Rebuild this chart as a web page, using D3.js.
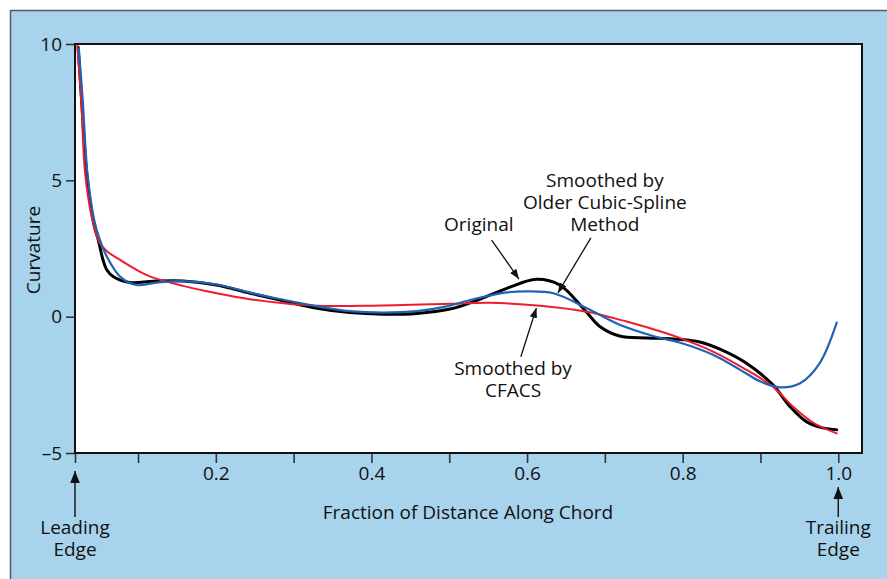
<!DOCTYPE html>
<html>
<head>
<meta charset="utf-8">
<script src="https://cdn.jsdelivr.net/npm/d3@7"></script>
<style>
  html, body { margin: 0; padding: 0; background: #ffffff; }
  svg { display: block; font-family: "Open Sans", "Noto Sans", sans-serif; }
</style>
</head>
<body>
<svg id="chart" width="887" height="579"></svg>
<script>
// ---------------- data ----------------
const originalPts = [
  [0.023, 9.88], [0.0275, 7.94], [0.034, 5.26], [0.043, 3.42], [0.049, 2.81],
  [0.055, 2.08], [0.060, 1.71], [0.068, 1.47], [0.0896, 1.25], [0.12, 1.30],
  [0.158, 1.31], [0.201, 1.16], [0.244, 0.86], [0.287, 0.58], [0.33, 0.31],
  [0.372, 0.15], [0.415, 0.09], [0.458, 0.12], [0.501, 0.28], [0.531, 0.55],
  [0.574, 1.04], [0.612, 1.37], [0.642, 1.16], [0.672, 0.31], [0.694, -0.37],
  [0.719, -0.71], [0.754, -0.78], [0.788, -0.82], [0.822, -0.93], [0.85, -1.22],
  [0.882, -1.71], [0.916, -2.50], [0.938, -3.30], [0.959, -3.85], [0.98, -4.08],
  [0.998, -4.15]
];
const olderSplinePts = [
  [0.024, 9.8], [0.029, 7.9], [0.035, 5.26], [0.044, 3.5], [0.05, 2.9],
  [0.06, 2.2], [0.077, 1.47], [0.098, 1.16], [0.124, 1.25], [0.158, 1.30],
  [0.201, 1.18], [0.244, 0.88], [0.287, 0.62], [0.33, 0.38], [0.372, 0.20],
  [0.415, 0.15], [0.458, 0.20], [0.495, 0.37], [0.531, 0.64], [0.574, 0.89],
  [0.60, 0.93], [0.634, 0.86], [0.677, 0.31], [0.719, -0.30], [0.762, -0.71],
  [0.796, -0.95], [0.839, -1.40], [0.874, -1.95], [0.90, -2.38], [0.925, -2.59],
  [0.951, -2.44], [0.976, -1.71], [0.998, -0.22]
];
const cfacsPts = [
  [0.022, 9.93], [0.027, 7.9], [0.032, 5.26], [0.041, 3.6], [0.051, 2.69],
  [0.06, 2.4], [0.077, 2.08], [0.096, 1.75], [0.116, 1.47], [0.158, 1.13],
  [0.201, 0.86], [0.244, 0.64], [0.287, 0.49], [0.33, 0.40], [0.40, 0.40],
  [0.501, 0.47], [0.552, 0.51], [0.617, 0.40], [0.677, 0.18], [0.728, -0.18],
  [0.779, -0.61], [0.796, -0.78], [0.839, -1.28], [0.882, -1.95], [0.916, -2.57],
  [0.942, -3.30], [0.968, -3.89], [0.998, -4.28]
];
const xDomain = [0.019, 1.0305];
const yDomain = [-5, 10];
const xTickValues = [0.019, 0.1, 0.2, 0.3, 0.4, 0.5, 0.6, 0.7, 0.8, 0.9, 1.0];
const xTickLabels = {0.2: "0.2", 0.4: "0.4", 0.6: "0.6", 0.8: "0.8", 1.0: "1.0"};
const yTickValues = [-5, 0, 5, 10];
const yTickLabels = {"-5": "\u20135", "0": "0", "5": "5", "10": "10"};

// annotations: label lines, first-line anchor (data coords), arrow tail -> tip (data coords)
const annotations = [
  { lines: ["Original"], at: [0.538, 3.14], tail: [0.5545, 2.81], tip: [0.5896, 1.38] },
  { lines: ["Smoothed by", "Older Cubic-Spline", "Method"], at: [0.700, 4.75], tail: [0.682, 2.89], tip: [0.6397, 0.87] },
  { lines: ["Smoothed by", "CFACS"], at: [0.582, -2.14], tail: [0.592, -1.47], tip: [0.612, 0.32] }
];

// ---------------- layout ----------------
const svg = d3.select("#chart");
const W = 887, H = 579;
const plot = { left: 75, right: 862, top: 44, bottom: 453 };
const FS = 19;

// panel background
svg.append("rect").attr("x", 10).attr("y", 10).attr("width", W - 10).attr("height", H - 10)
  .attr("fill", "#a8d3ec");
svg.append("line").attr("x1", 10.5).attr("x2", 10.5).attr("y1", 10).attr("y2", H).attr("stroke", "#5a5a5a").attr("stroke-width", 1.5);
svg.append("line").attr("x1", 10).attr("x2", W).attr("y1", 10.5).attr("y2", 10.5).attr("stroke", "#5a5a5a").attr("stroke-width", 1.5);

const x = d3.scaleLinear().domain(xDomain).range([plot.left, plot.right]);
const y = d3.scaleLinear().domain(yDomain).range([plot.bottom, plot.top]);

// plot area
svg.append("rect").attr("x", plot.left).attr("y", plot.top)
  .attr("width", plot.right - plot.left).attr("height", plot.bottom - plot.top)
  .attr("fill", "#ffffff");

// defs: arrow marker
const defs = svg.append("defs");
defs.append("marker").attr("id", "arr").attr("viewBox", "0 0 10 10")
  .attr("refX", 10).attr("refY", 5).attr("markerWidth", 10).attr("markerHeight", 10)
  .attr("markerUnits", "userSpaceOnUse").attr("orient", "auto")
  .append("path").attr("d", "M0,1.2 L10,5 L0,8.8 Z").attr("fill", "#111");
defs.append("marker").attr("id", "arrBig").attr("viewBox", "0 0 10 10")
  .attr("refX", 10).attr("refY", 5).attr("markerWidth", 12).attr("markerHeight", 12)
  .attr("markerUnits", "userSpaceOnUse").attr("orient", "auto")
  .append("path").attr("d", "M0,1 L10,5 L0,9 Z").attr("fill", "#111");

defs.append("clipPath").attr("id", "clip").append("rect")
  .attr("x", plot.left).attr("y", plot.top)
  .attr("width", plot.right - plot.left).attr("height", plot.bottom - plot.top);

// axes
const xAxis = d3.axisBottom(x).tickValues(xTickValues).tickSize(10).tickPadding(4)
  .tickFormat(d => xTickLabels[d] || "");
const gx = svg.append("g").attr("transform", `translate(0,${plot.bottom})`).call(xAxis);
gx.select(".domain").remove();
gx.selectAll(".tick line").attr("stroke", "#333").attr("stroke-width", 1.6);
gx.selectAll(".tick text").attr("fill", "#111").attr("font-size", FS)
  .attr("font-family", "'Open Sans', sans-serif");

const yAxis = d3.axisLeft(y).tickValues(yTickValues).tickSize(9).tickPadding(4)
  .tickFormat(d => yTickLabels[String(d)]);
const gy = svg.append("g").attr("transform", `translate(${plot.left},0)`).call(yAxis);
gy.select(".domain").remove();
gy.selectAll(".tick line").attr("stroke", "#333").attr("stroke-width", 1.6);
gy.selectAll(".tick text").attr("fill", "#111").attr("font-size", FS)
  .attr("font-family", "'Open Sans', sans-serif");

// lines
const line = d3.line().x(d => x(d[0])).y(d => y(d[1])).curve(d3.curveCatmullRom.alpha(0.5));
const series = [
  { pts: originalPts, color: "#000000", w: 3.0 },
  { pts: cfacsPts, color: "#ee1c2e", w: 2.0 },
  { pts: olderSplinePts, color: "#1f63b3", w: 2.2 }
];
const gl = svg.append("g").attr("clip-path", "url(#clip)");
gl.selectAll("path").data(series).join("path")
  .attr("d", d => line(d.pts))
  .attr("fill", "none")
  .attr("stroke", d => d.color)
  .attr("stroke-width", d => d.w)
  .attr("stroke-linejoin", "round")
  .attr("stroke-linecap", "round");

// frame
svg.append("rect").attr("x", plot.left).attr("y", plot.top)
  .attr("width", plot.right - plot.left).attr("height", plot.bottom - plot.top)
  .attr("fill", "none").attr("stroke", "#111").attr("stroke-width", 2);

// annotations
const ga = svg.append("g");
annotations.forEach(a => {
  ga.append("line")
    .attr("x1", x(a.tail[0])).attr("y1", y(a.tail[1]))
    .attr("x2", x(a.tip[0])).attr("y2", y(a.tip[1]))
    .attr("stroke", "#111").attr("stroke-width", 1.3)
    .attr("marker-end", "url(#arr)");
  const t = ga.append("text").attr("text-anchor", "middle")
    .attr("font-size", FS).attr("fill", "#111");
  const lineH = 22;
  a.lines.forEach((s, i) => {
    t.append("tspan").attr("x", x(a.at[0])).attr("y", y(a.at[1]) + i * lineH).text(s);
  });
});

// axis titles
svg.append("text").attr("x", 468).attr("y", 519).attr("text-anchor", "middle")
  .attr("font-size", FS).attr("fill", "#111").text("Fraction of Distance Along Chord");
svg.append("text").attr("transform", "translate(40,250) rotate(-90)").attr("text-anchor", "middle")
  .attr("font-size", FS).attr("fill", "#111").text("Curvature");

// leading / trailing edge markers
const edges = [
  { xv: xDomain[0], tipY: 471, lines: ["Leading", "Edge"] },
  { xv: 1.0, tipY: 487, lines: ["Trailing", "Edge"] }
];
edges.forEach(e => {
  svg.append("line").attr("x1", x(e.xv)).attr("x2", x(e.xv)).attr("y1", 517).attr("y2", e.tipY)
    .attr("stroke", "#111").attr("stroke-width", 1.4).attr("marker-end", "url(#arrBig)");
  const t = svg.append("text").attr("text-anchor", "middle").attr("font-size", FS).attr("fill", "#111");
  e.lines.forEach((s, i) => t.append("tspan").attr("x", x(e.xv)).attr("y", 534 + i * 22).text(s));
});
</script>
</body>
</html>
